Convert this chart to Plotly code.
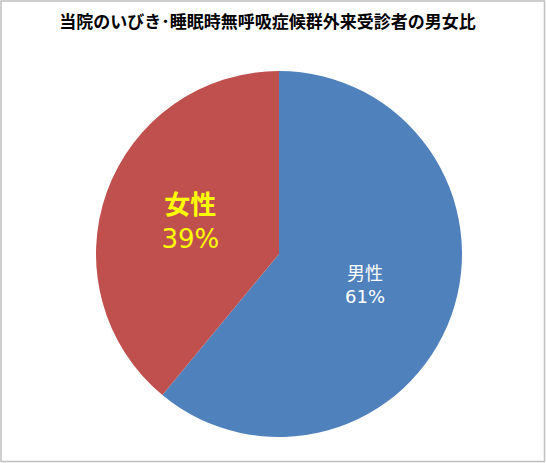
import plotly.graph_objects as go

# data
labels = ["男性", "女性"]
values = [61, 39]
slice_colors = ["#4F81BD", "#C0504D"]
label_colors = ["#FFFFFF", "#FFFF00"]
label_sizes = [18, 26]
title_text = "当院のいびき･睡眠時無呼吸症候群外来受診者の男女比"

W, H = 546, 463
ml, mr, mt, mb = 96, 84, 71, 26

templates = [
    "%{label}<br>%{percent:.0%}",
    "<b>%{label}</b><br>%{percent:.0%}",
]

fig = go.Figure(go.Pie(
    labels=labels,
    values=values,
    sort=False,
    direction="clockwise",
    rotation=0,
    marker=dict(colors=slice_colors, line=dict(width=0)),
    texttemplate=templates,
    textposition="inside",
    insidetextorientation="horizontal",
    insidetextfont=dict(color=label_colors, size=label_sizes,
                        family="DejaVu Sans, Noto Sans CJK JP"),
    hoverinfo="label+percent",
    showlegend=False,
))

# grey frame round the chart area
pw, ph = W - ml - mr, H - mt - mb
fig.add_shape(
    type="rect", xref="paper", yref="paper",
    x0=-(ml - 1) / pw, x1=1 + (mr - 1.5) / pw,
    y0=-(mb - 1.5) / ph, y1=1 + (mt - 1) / ph,
    line=dict(color="#C0C0C0", width=1.5),
)

fig.update_layout(
    width=W, height=H,
    margin=dict(l=ml, r=mr, t=mt, b=mb),
    paper_bgcolor="white",
    font=dict(family="Noto Sans CJK JP", color="#000000"),
    title=dict(text="<b>" + title_text + "</b>", x=0.49, xanchor="center",
               y=1 - 22 / H, yanchor="middle",
               font=dict(size=17, color="#000000")),
)

# drop the browser's default page margin so the figure sits at 0,0
fig.write_html("out.html", config={"displayModeBar": False},
               post_script="document.body.style.margin='0';")
